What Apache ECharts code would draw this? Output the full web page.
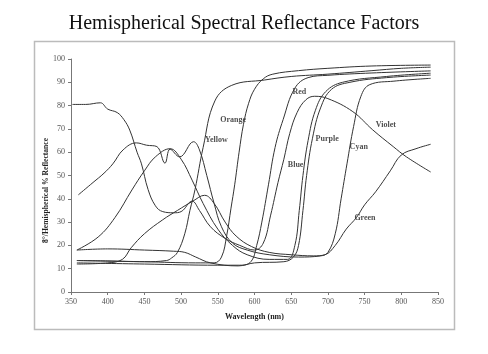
<!DOCTYPE html>
<html>
<head>
<meta charset="utf-8">
<script src="https://cdn.jsdelivr.net/npm/echarts@6/dist/echarts.min.js"></script>
<style>
  html, body { margin: 0; padding: 0; background: #fff; }
  #chart { width: 488px; height: 354px; }
</style>
</head>
<body>
<div id="chart"></div>
<script>
// tick labels
var xTicks = [350, 400, 450, 500, 550, 600, 650, 700, 750, 800, 850];
var yTicks = [0, 10, 20, 30, 40, 50, 60, 70, 80, 90, 100];

// [wavelength nm, % reflectance]
var violet = [[352,80.5],[370,80.5],[390,81.2],[400,78.5],[413,77],[422,74],[430,69.5],[440,60],[446,55],[455,44],[465,37],[475,34.5],[490,34],[500,34.5],[515,39],[525,35],[540,28],[560,23],[580,20],[600,18],[612,21],[622,33],[632,47],[640,57],[648,68],[658,77],[670,82.5],[682,84],[700,83],[734,77.4],[761,69.6],[789,62.4],[807,58],[840,51.5]];
var cyan = [[360,41.7],[380,47],[395,51],[407,55],[421,61],[439,64],[453,63],[467,62.4],[478,55.3],[485,61.3],[498,58],[517,64.5],[525,61],[535,50],[545,38],[555,28],[570,21],[590,18],[620,16],[660,15],[690,15.5],[700,17],[710,25],[718,40],[726,55],[735,71],[745,84],[757,89],[790,90.5],[840,91.7]];
var blue = [[358,18],[387,23.6],[410,32],[433,43.8],[450,52],[465,58],[485,61.5],[500,57],[515,48],[530,38],[550,27],[570,20],[590,16],[620,14],[645,14],[655,20],[661,35],[666,50],[673,65],[683,78],[697,86],[720,90],[780,92.5],[840,93.9]];
var purple = [[358,18],[400,18.5],[450,18],[490,17.5],[505,17],[520,15],[540,12.5],[578,11.2],[600,12.5],[640,13],[653,15],[660,20],[666,35],[671,50],[679,66],[690,79],[705,87],[730,90],[780,92],[840,93.1]];
var green = [[358,12],[400,12.5],[420,14],[432,19],[450,25],[475,31],[495,35],[516,39],[532,41.5],[545,38],[560,30],[575,24],[596,19.5],[620,17],[650,16],[680,15.5],[696,16],[710,20],[725,27],[739,32],[750,37.4],[765,43],[785,52],[800,58.8],[820,61.5],[840,63.4]];
var yellow = [[358,13.5],[400,13.3],[450,13],[480,13.5],[487,14.6],[495,17],[505,25],[512,35],[519,44],[530,62],[546,82],[569,88.7],[614,91],[650,92.5],[700,93.5],[760,95],[800,96],[840,96.5]];
var orange = [[358,13.5],[450,13],[520,12.5],[545,12.5],[555,15],[562,24],[568,36],[573,46],[579,60],[585,72],[592,81],[600,87],[612,91.5],[625,93.5],[660,95],[700,96],[760,97],[840,97.4]];
var red = [[358,12.5],[450,12],[550,11.5],[580,11.5],[595,13],[603,20],[610,30],[619,46],[628,62],[639,74],[655,87.5],[673,92],[700,93],[760,94],[840,94.9]];

// curve labels placed in data space
var labels = [[571,74,'Orange'],[661,86,'Red'],[548,65.3,'Yellow'],[779,71.7,'Violet'],[699,65.7,'Purple'],[742,62.4,'Cyan'],[656,54.6,'Blue'],[750.5,31.7,'Green']];

var curves = [
  ['Violet', violet], ['Cyan', cyan], ['Blue', blue], ['Purple', purple],
  ['Green', green], ['Yellow', yellow], ['Orange', orange], ['Red', red]
];

var dom = document.getElementById('chart');
var myChart = echarts.init(dom);

var series = curves.map(function (c) {
  return {
    name: c[0],
    type: 'line',
    data: c[1],
    smooth: 0.4,
    showSymbol: false,
    lineStyle: { color: '#333', width: 1 }
  };
});
series.push({
  type: 'scatter',
  data: labels,
  symbolSize: 0,
  label: {
    show: true,
    position: 'inside',
    formatter: function (p) { return p.data[2]; },
    fontFamily: 'Liberation Serif',
    fontWeight: 'bold',
    fontSize: 8,
    color: '#222'
  }
});

var option = {
  animation: false,
  title: {
    text: 'Hemispherical Spectral Reflectance Factors',
    left: 'center',
    top: 9,
    textStyle: { fontFamily: 'Liberation Serif', fontWeight: 'normal', fontSize: 20, color: '#111' }
  },
  graphic: [{
    type: 'rect',
    shape: { x: 34.5, y: 41.5, width: 420, height: 288 },
    style: { fill: 'none', stroke: '#bbb', lineWidth: 1.5 }
  }],
  grid: { left: 71, right: 50, top: 59, bottom: 62 },
  xAxis: {
    type: 'value',
    min: xTicks[0],
    max: xTicks[xTicks.length - 1],
    interval: 50,
    name: 'Wavelength (nm)',
    nameLocation: 'middle',
    nameGap: 21,
    nameMoveOverlap: false,
    nameTextStyle: { fontFamily: 'Liberation Serif', fontWeight: 'bold', fontSize: 8, color: '#222' },
    axisLine: { lineStyle: { color: '#777' } },
    axisTick: { length: 3, lineStyle: { color: '#777' } },
    axisLabel: { fontFamily: 'Liberation Serif', fontSize: 8, color: '#555', margin: 6 },
    splitLine: { show: false }
  },
  yAxis: {
    type: 'value',
    min: yTicks[0],
    max: yTicks[yTicks.length - 1],
    interval: 10,
    name: '8°/Hemispherical % Reflectance',
    nameLocation: 'middle',
    nameGap: 21,
    nameMoveOverlap: false,
    nameTextStyle: { fontFamily: 'Liberation Serif', fontWeight: 'bold', fontSize: 7.6, color: '#222', padding: [0, 30, 0, 0] },
    axisLine: { show: true, lineStyle: { color: '#777' } },
    axisTick: { show: true, length: 3, lineStyle: { color: '#777' } },
    axisLabel: { fontFamily: 'Liberation Serif', fontSize: 8, color: '#555', margin: 6 },
    splitLine: { show: false }
  },
  series: series
};

if (option && typeof option === 'object') {
  myChart.setOption(option);
}
</script>
</body>
</html>
